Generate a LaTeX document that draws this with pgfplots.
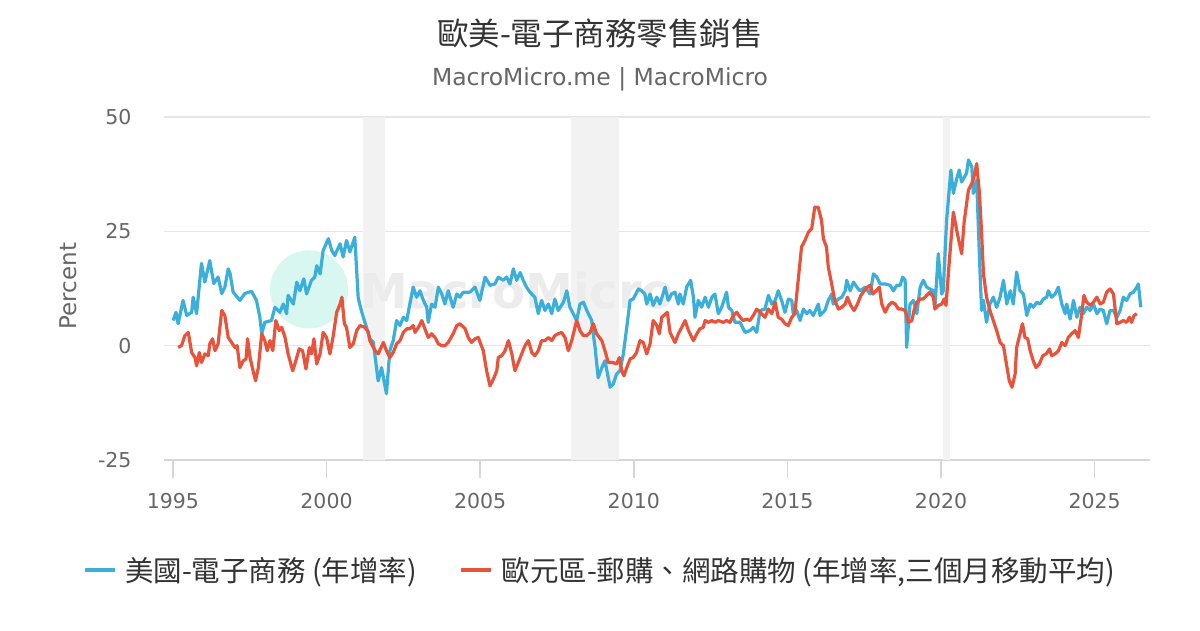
\documentclass[border=0pt]{standalone}
\usepackage{fontspec}
\setmainfont{DejaVu Sans}
\newfontfamily\cjk{Noto Sans CJK TC}
\usepackage{pgfplots}
\pgfplotsset{compat=1.18}
\usepackage{pgfplotstable}
\definecolor{mmblue}{RGB}{59,174,218}
\definecolor{mmred}{RGB}{232,83,60}
\definecolor{gridc}{RGB}{230,230,230}
\definecolor{axisc}{RGB}{214,214,214}
\definecolor{txt}{RGB}{102,102,102}
\definecolor{ttl}{RGB}{51,51,51}
\definecolor{shade}{RGB}{242,242,242}
\definecolor{wmteal}{RGB}{216,247,240}
\definecolor{wmgray}{RGB}{236,236,236}
\pgfplotstableread{
x y
1995.01 5.5
1995.10 7.3
1995.17 4.8
1995.33 9.9
1995.45 6.6
1995.61 7.3
1995.66 10.6
1995.77 7.0
1995.93 18.0
1996.04 13.9
1996.20 18.6
1996.33 13.6
1996.47 15.0
1996.59 11.4
1996.69 12.8
1996.80 16.8
1996.86 15.8
1996.96 11.7
1997.18 9.9
1997.34 11.4
1997.56 11.9
1997.72 9.9
1997.83 6.2
1997.89 2.6
1997.99 5.1
1998.21 5.5
1998.32 8.4
1998.48 7.3
1998.59 9.1
1998.70 7.0
1998.75 11.0
1998.92 9.1
1999.03 13.9
1999.13 12.0
1999.26 14.6
1999.35 11.3
1999.51 14.3
1999.62 15.0
1999.68 17.5
1999.79 15.7
1999.89 20.8
2000.06 23.4
2000.17 20.8
2000.27 19.7
2000.44 22.3
2000.54 19.4
2000.65 23.0
2000.76 20.5
2000.92 23.7
2001.03 10.5
2001.14 7.5
2001.30 4.0
2001.41 1.5
2001.52 0.8
2001.68 -7.7
2001.79 -4.8
2001.95 -10.5
2002.06 -1.1
2002.17 1.1
2002.28 5.5
2002.39 4.4
2002.50 6.2
2002.61 5.5
2002.71 9.1
2002.82 12.8
2002.93 10.6
2003.04 12.0
2003.15 9.9
2003.26 8.4
2003.31 5.1
2003.42 9.1
2003.53 8.4
2003.64 12.8
2003.75 11.3
2003.85 9.1
2003.96 12.0
2004.12 8.4
2004.24 11.3
2004.34 10.6
2004.45 11.7
2004.67 11.7
2004.83 12.8
2004.99 9.9
2005.16 15.0
2005.32 13.2
2005.48 13.5
2005.59 15.0
2005.75 14.3
2005.86 15.0
2005.97 13.5
2006.08 16.8
2006.19 14.3
2006.30 16.0
2006.40 14.3
2006.51 12.8
2006.62 11.7
2006.78 10.6
2006.89 7.0
2007.00 9.9
2007.11 7.7
2007.22 9.1
2007.33 7.0
2007.43 10.2
2007.54 7.7
2007.71 9.5
2007.82 12.0
2007.92 8.4
2008.03 7.0
2008.14 5.5
2008.25 9.1
2008.36 9.5
2008.47 7.7
2008.63 5.5
2008.68 2.6
2008.74 -0.4
2008.84 -7.0
2008.96 -4.8
2009.06 -3.3
2009.23 -9.1
2009.33 -8.4
2009.44 -6.2
2009.55 -5.5
2009.66 -1.8
2009.77 4.0
2009.88 9.9
2009.98 10.2
2010.15 12.4
2010.26 12.0
2010.36 11.3
2010.42 9.1
2010.53 11.3
2010.63 8.8
2010.75 10.6
2010.85 9.1
2011.02 12.8
2011.12 9.9
2011.23 11.3
2011.34 11.7
2011.45 9.1
2011.50 11.3
2011.61 9.1
2011.72 12.8
2011.85 14.3
2011.94 10.6
2011.99 6.2
2012.10 9.9
2012.21 8.4
2012.32 10.6
2012.43 8.4
2012.54 10.6
2012.64 11.3
2012.75 7.0
2012.86 8.4
2013.02 11.7
2013.08 8.4
2013.19 7.7
2013.29 5.1
2013.46 5.1
2013.62 2.9
2013.78 3.3
2013.89 4.0
2014.00 2.9
2014.11 7.7
2014.27 8.0
2014.38 11.0
2014.49 9.1
2014.60 9.9
2014.70 12.0
2014.81 9.9
2014.92 7.3
2015.03 10.2
2015.14 9.9
2015.19 7.0
2015.30 7.7
2015.41 5.5
2015.52 8.0
2015.63 7.0
2015.73 7.7
2015.84 6.6
2016.01 9.1
2016.06 6.6
2016.22 7.7
2016.33 9.9
2016.44 11.3
2016.49 9.1
2016.66 10.2
2016.77 10.6
2016.88 12.0
2016.93 14.3
2017.04 12.0
2017.15 13.9
2017.26 12.8
2017.36 12.0
2017.53 12.8
2017.69 11.3
2017.80 15.7
2017.91 15.0
2018.02 13.5
2018.18 13.5
2018.34 13.2
2018.45 12.0
2018.56 13.2
2018.67 13.2
2018.75 15.0
2018.83 14.3
2018.88 -0.4
2018.99 9.1
2019.10 9.9
2019.21 7.0
2019.32 12.8
2019.42 14.3
2019.53 12.8
2019.75 12.0
2019.80 8.4
2019.91 20.1
2020.02 11.3
2020.07 12.0
2020.18 27.4
2020.32 38.4
2020.40 33.3
2020.51 36.5
2020.59 38.4
2020.67 35.8
2020.83 37.7
2020.89 40.6
2021.00 39.1
2021.05 33.3
2021.16 36.2
2021.21 26.7
2021.27 15.7
2021.32 7.7
2021.38 9.9
2021.48 5.1
2021.59 9.1
2021.70 10.6
2021.81 8.4
2021.92 10.6
2022.03 14.3
2022.14 9.1
2022.25 12.0
2022.35 9.1
2022.46 16.1
2022.57 12.0
2022.68 11.3
2022.79 6.6
2022.90 9.1
2023.00 8.4
2023.12 9.5
2023.22 9.1
2023.33 10.2
2023.44 10.6
2023.49 12.0
2023.60 10.6
2023.71 11.3
2023.82 12.8
2023.93 9.1
2024.04 7.0
2024.09 9.1
2024.20 5.8
2024.31 9.9
2024.42 6.2
2024.52 8.4
2024.63 7.0
2024.74 8.4
2024.85 7.7
2024.96 9.1
2025.07 7.0
2025.18 8.0
2025.28 7.7
2025.39 4.8
2025.50 7.7
2025.61 7.7
2025.72 6.2
2025.83 7.7
2025.93 10.6
2026.04 9.9
2026.15 11.3
2026.26 11.7
2026.37 12.8
2026.42 13.5
2026.50 8.4
}\usdata
\pgfplotstableread{
x y
1995.17 -0.4
1995.28 0.0
1995.39 2.2
1995.50 2.9
1995.61 -1.5
1995.72 -2.6
1995.77 -4.4
1995.86 -1.5
1995.93 -3.7
1996.04 -1.8
1996.15 -2.2
1996.20 0.4
1996.29 1.5
1996.37 -1.1
1996.47 0.4
1996.59 7.7
1996.69 6.6
1996.80 1.8
1996.91 0.7
1997.02 -0.4
1997.09 0.0
1997.18 -4.8
1997.29 -3.3
1997.38 -2.9
1997.43 1.5
1997.51 -2.6
1997.61 -5.5
1997.69 -7.7
1997.78 -4.8
1997.89 2.6
1997.99 1.1
1998.07 -1.1
1998.16 1.1
1998.25 -1.1
1998.35 5.5
1998.46 3.3
1998.54 4.0
1998.65 1.8
1998.75 -1.8
1998.90 -5.5
1999.00 -3.3
1999.11 -0.7
1999.22 -1.1
1999.33 -5.1
1999.44 -0.4
1999.51 -1.8
1999.59 1.5
1999.68 -4.0
1999.79 -1.8
1999.89 2.9
2000.00 1.8
2000.11 -1.8
2000.22 2.2
2000.33 7.3
2000.44 9.1
2000.50 10.6
2000.58 4.8
2000.65 4.0
2000.76 -0.4
2000.87 0.4
2000.98 3.3
2001.09 4.4
2001.25 4.0
2001.36 3.0
2001.41 1.1
2001.58 -1.1
2001.68 -1.8
2001.85 0.7
2001.95 -1.1
2002.06 -2.6
2002.17 -1.5
2002.28 0.4
2002.39 1.1
2002.50 2.9
2002.61 3.7
2002.71 3.7
2002.82 4.4
2002.88 2.9
2002.99 4.0
2003.10 5.5
2003.20 3.7
2003.31 1.8
2003.42 2.6
2003.53 1.8
2003.64 0.4
2003.75 0.0
2003.85 0.0
2003.96 0.7
2004.12 2.6
2004.24 4.4
2004.34 4.8
2004.51 3.7
2004.61 1.8
2004.72 0.7
2004.83 1.5
2004.94 1.8
2005.10 -1.1
2005.21 -5.5
2005.32 -8.8
2005.43 -7.3
2005.54 -5.5
2005.59 -2.6
2005.70 -2.2
2005.81 -1.1
2005.92 1.1
2006.03 -1.8
2006.13 -5.5
2006.24 -3.7
2006.35 -1.8
2006.46 0.0
2006.57 1.1
2006.68 -1.5
2006.78 -2.2
2006.89 -1.1
2007.00 1.1
2007.11 1.1
2007.22 1.8
2007.33 1.1
2007.43 2.2
2007.54 2.6
2007.65 2.9
2007.76 1.8
2007.87 -1.1
2007.98 1.1
2008.14 5.5
2008.25 3.3
2008.36 2.2
2008.47 2.2
2008.58 2.9
2008.68 4.8
2008.79 2.6
2008.96 1.1
2009.06 -1.1
2009.17 -3.7
2009.33 -3.7
2009.44 -4.0
2009.53 -2.6
2009.61 -5.5
2009.68 -6.6
2009.77 -4.8
2009.88 -2.9
2009.98 -2.6
2010.09 -1.5
2010.20 1.1
2010.31 0.7
2010.42 -1.8
2010.53 0.4
2010.63 5.5
2010.75 4.4
2010.83 2.6
2010.91 6.2
2011.09 7.3
2011.18 2.9
2011.34 0.7
2011.45 2.6
2011.56 4.0
2011.67 5.5
2011.78 3.3
2011.94 1.1
2012.05 2.6
2012.15 3.7
2012.26 4.0
2012.32 5.5
2012.43 5.1
2012.54 5.5
2012.64 5.1
2012.75 5.5
2012.91 5.1
2013.02 5.5
2013.13 5.1
2013.24 6.6
2013.35 7.3
2013.46 6.2
2013.56 5.5
2013.67 5.8
2013.78 5.5
2013.89 6.6
2014.00 8.0
2014.11 7.3
2014.27 6.2
2014.38 8.0
2014.49 7.0
2014.60 9.5
2014.70 6.2
2014.81 5.8
2014.92 4.8
2015.03 4.4
2015.14 6.2
2015.24 7.0
2015.35 14.3
2015.46 21.6
2015.57 23.0
2015.68 24.8
2015.79 25.6
2015.89 30.3
2016.00 30.3
2016.11 27.4
2016.17 23.4
2016.27 21.6
2016.33 17.2
2016.44 13.5
2016.54 9.9
2016.66 8.0
2016.77 8.4
2016.88 9.1
2016.95 10.6
2017.06 8.8
2017.17 7.7
2017.28 9.1
2017.39 11.0
2017.50 12.0
2017.60 12.8
2017.69 13.2
2017.78 11.3
2017.89 12.0
2017.99 12.8
2018.07 9.1
2018.18 7.3
2018.29 8.8
2018.40 9.5
2018.51 9.1
2018.61 8.0
2018.72 8.0
2018.83 7.7
2018.94 5.1
2019.05 5.5
2019.12 7.7
2019.21 9.5
2019.32 10.2
2019.42 10.2
2019.53 11.0
2019.64 11.7
2019.75 10.6
2019.80 8.0
2019.91 8.8
2020.02 9.1
2020.10 10.2
2020.16 8.8
2020.27 18.6
2020.40 29.2
2020.53 24.5
2020.67 20.1
2020.75 27.0
2020.89 34.0
2021.00 35.5
2021.07 36.9
2021.16 39.8
2021.25 33.3
2021.32 24.5
2021.38 15.7
2021.48 10.6
2021.59 7.7
2021.70 5.5
2021.81 3.3
2021.92 0.7
2022.03 0.0
2022.11 -3.3
2022.22 -7.7
2022.31 -9.1
2022.41 -6.2
2022.46 -0.4
2022.57 2.6
2022.65 4.8
2022.73 1.8
2022.82 1.5
2022.90 -1.1
2023.00 -3.3
2023.09 -4.8
2023.20 -4.0
2023.31 -2.2
2023.42 -1.8
2023.53 -0.7
2023.60 -2.2
2023.71 -1.8
2023.82 -1.1
2023.93 0.7
2024.04 0.0
2024.14 1.8
2024.25 2.6
2024.36 3.3
2024.47 1.8
2024.58 7.0
2024.65 11.0
2024.74 9.5
2024.85 8.8
2024.96 9.5
2025.07 10.6
2025.18 9.1
2025.28 9.5
2025.39 11.7
2025.50 12.4
2025.61 11.3
2025.72 4.8
2025.83 5.1
2025.93 5.5
2026.04 5.1
2026.13 6.2
2026.20 5.1
2026.28 6.6
2026.37 7.0
}\eudata
\begin{document}
\begin{tikzpicture}
\path[use as bounding box] (0,0) rectangle (1200pt,630pt);
\begin{axis}[
  at={(164pt,170pt)}, anchor=south west,
  scale only axis, width=986pt, height=343pt,
  xmin=1994.71, xmax=2026.8, ymin=-25, ymax=50,
  axis x line=bottom, axis y line=left,
  x axis line style={-, draw=axisc, line width=1.5pt},
  y axis line style={draw=none},
  xtick={1995,2000,2005,2010,2015,2020,2025},
  ytick={-25,0,25,50},
  ymajorgrids=true,
  grid style={draw=gridc, line width=1.5pt},
  tick align=outside,
  major tick length=18pt,
  xtick style={draw=axisc, line width=1.5pt},
  ytick style={draw=none},
  /pgf/number format/1000 sep={},
  /pgf/number format/assume math mode=true,
  ticklabel style={text=txt, font=\fontsize{20.5}{24}\selectfont},
  xticklabel style={yshift=-12pt},
  yticklabel style={xshift=-11pt},
  legend style={at={(0.442,-0.3207)}, anchor=center, draw=none, fill=none,
    legend columns=2, font=\cjk\fontsize{28.5}{32}\selectfont, text=ttl,
    /tikz/every odd column/.append style={column sep=6pt},
    /tikz/every even column/.append style={column sep=40pt}},
  legend image code/.code={\draw[#1, line width=4.5pt] (0pt,0pt) -- (30pt,0pt);},
]
\addplot[fill=shade, draw=none, forget plot] coordinates {(2001.19,-25) (2001.19,50) (2001.90,50) (2001.90,-25)} -- cycle;
\addplot[fill=shade, draw=none, forget plot] coordinates {(2007.96,-25) (2007.96,50) (2009.52,50) (2009.52,-25)} -- cycle;
\addplot[fill=shade, draw=none, forget plot] coordinates {(2020.07,-25) (2020.07,50) (2020.29,50) (2020.29,-25)} -- cycle;
\node[circle, fill=wmteal, minimum size=78pt, inner sep=0pt] at (axis cs:1999.43,12.3) {};
\node[font=\bfseries\fontsize{48}{50}\selectfont, text=wmgray, anchor=west, inner sep=0pt] at (axis cs:2001.09,12) {MacroMicro};
\addplot[mmblue, line width=3.2pt, line join=round] table {\usdata};
\addlegendentry{美國-電子商務 (年增率)}
\addplot[mmred, line width=3.2pt, line join=round] table {\eudata};
\addlegendentry{歐元區-郵購、網路購物 (年增率,三個月移動平均)}
\end{axis}
\node[font=\cjk\fontsize{31.5}{34}\selectfont, text=ttl] at (600pt,596pt) {歐美-電子商務零售銷售};
\node[font=\fontsize{23.5}{26}\selectfont, text=txt] at (600pt,551pt) {MacroMicro.me | MacroMicro};
\node[rotate=90, font=\fontsize{23}{26}\selectfont, text=txt] at (68pt,344pt) {Percent};
\end{tikzpicture}
\end{document}
